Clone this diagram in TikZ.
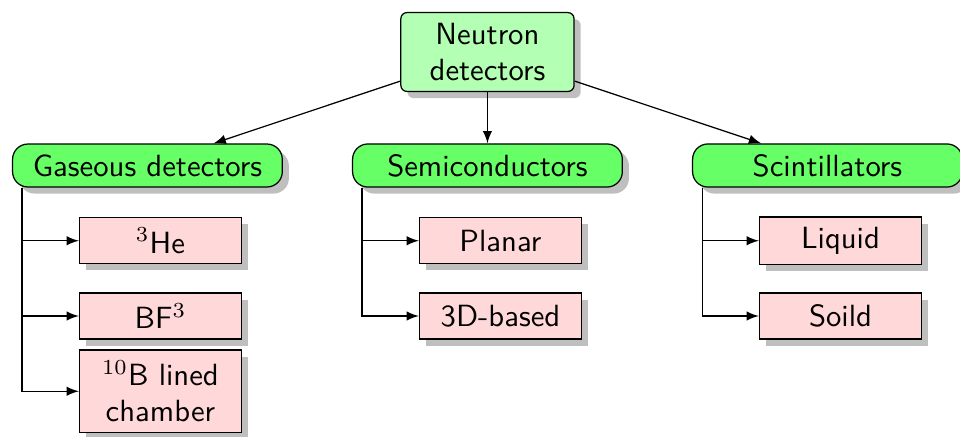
\documentclass[tikz,border=0pt]{standalone}
\usepackage{xcolor}
\usepackage{tikz}
\usetikzlibrary{shadows,positioning}
\definecolor{rootgreen}{RGB}{179,255,179}
\definecolor{catgreen}{RGB}{102,255,102}
\definecolor{leafpink}{RGB}{255,217,217}

\begin{document}
\begin{tikzpicture}[font=\sffamily,
  topbox/.style={draw, fill=rootgreen, rounded corners=2pt, drop shadow, text width=1.75cm, align=center},
  catbox/.style={draw, fill=catgreen, rounded corners=5pt, drop shadow, minimum width=3.09cm, minimum height=14pt},
  leafbox/.style={draw, fill=leafpink, drop shadow, text width=1.62cm, align=center, minimum height=15pt}]
\useasboundingbox (-5.584,0.596) rectangle (5.413,-4.410);
\node[topbox] (root) at (0,0) {Neutron detectors};
\node[catbox] (gas) at (-3.895,-1.3) {Gaseous detectors};
\node[catbox] (semi) at (0,-1.3) {Semiconductors};
\node[catbox] (scint) at (3.895,-1.3) {Scintillators};
\foreach \c in {gas,semi,scint} \draw[-latex] (root) -- (\c);
% leaves under each category
\node[leafbox] (he) at (-3.746,-2.162) {$^3$He};
\node[leafbox] (bf) at (-3.746,-3.024) {BF$^3$};
\node[leafbox] (boron) at (-3.746,-3.886) {$^{10}$B lined chamber};
\node[leafbox] (planar) at (0.149,-2.162) {Planar};
\node[leafbox] (threed) at (0.149,-3.024) {3D-based};
\node[leafbox] (liquid) at (4.044,-2.162) {Liquid};
\node[leafbox] (solid) at (4.044,-3.024) {Soild};
\foreach \l in {he,bf,boron} \draw[-latex] ([xshift=3.3pt]gas.south west) |- (\l.west);
\foreach \l in {planar,threed} \draw[-latex] ([xshift=3.3pt]semi.south west) |- (\l.west);
\foreach \l in {liquid,solid} \draw[-latex] ([xshift=3.3pt]scint.south west) |- (\l.west);
\end{tikzpicture}
\end{document}
